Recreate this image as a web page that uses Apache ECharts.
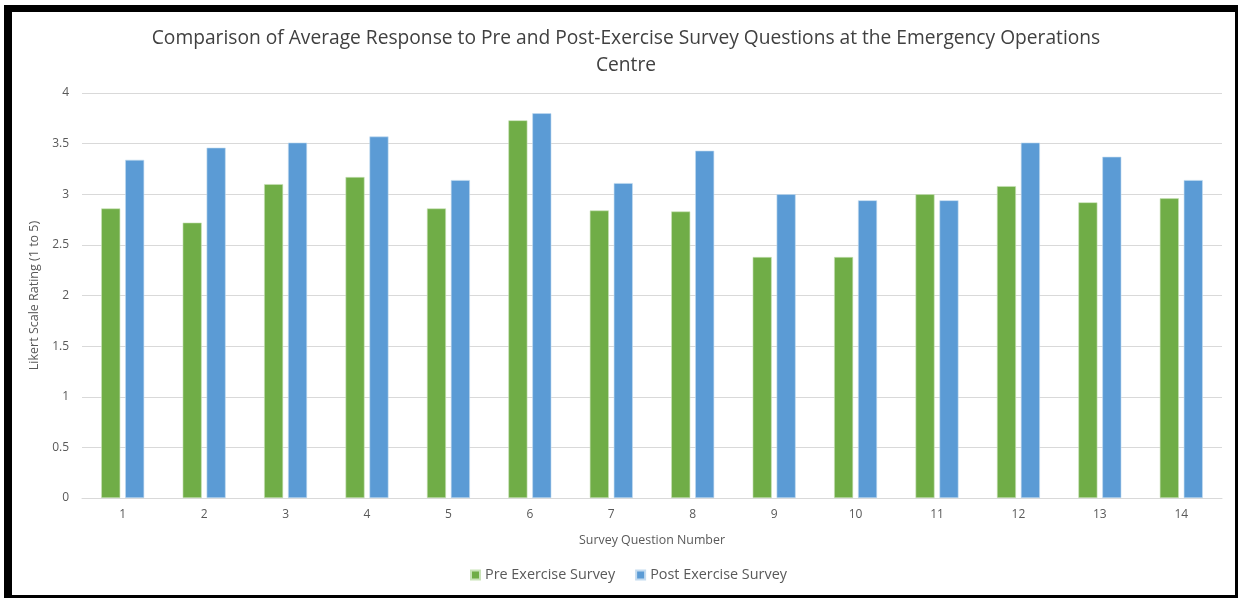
<!DOCTYPE html>
<html>
<head>
<meta charset="utf-8">
<script src="https://cdn.jsdelivr.net/npm/echarts@6/dist/echarts.min.js"></script>
<style>
html,body{margin:0;padding:0;background:#fff;}
#chart{position:absolute;left:0;top:0;width:1238px;height:598px;}
#frame{position:absolute;left:4px;top:5px;width:1223px;height:583px;border-style:solid;border-color:#000;border-width:7px 3px 3px 8px;pointer-events:none;}
</style>
</head>
<body>
<div id="chart"></div>
<div id="frame"></div>
<script>
var categories = ['1','2','3','4','5','6','7','8','9','10','11','12','13','14'];
var preExercise = [2.86, 2.72, 3.10, 3.17, 2.86, 3.73, 2.84, 2.83, 2.38, 2.38, 3.00, 3.08, 2.92, 2.96];
var postExercise = [3.34, 3.46, 3.51, 3.57, 3.14, 3.80, 3.11, 3.43, 3.00, 2.94, 2.94, 3.51, 3.37, 3.14];
var yTicks = [0, 0.5, 1, 1.5, 2, 2.5, 3, 3.5, 4];

var font = '"Open Sans", "Noto Sans", sans-serif';
var chart = echarts.init(document.getElementById('chart'), null, {renderer: 'canvas'});
chart.setOption({
  backgroundColor: '#fff',
  animation: false,
  title: {
    text: 'Comparison of Average Response to Pre and Post-Exercise Survey Questions at the Emergency Operations\nCentre',
    left: 621,
    top: 20,
    textAlign: 'center',
    textStyle: {fontFamily: font, fontSize: 19.2, fontWeight: 'normal', color: '#404040', lineHeight: 27}
  },
  legend: {
    bottom: 11,
    left: 465,
    itemWidth: 9,
    itemHeight: 9,
    itemGap: 20,
    icon: 'rect',
    textStyle: {fontFamily: font, fontSize: 14.4, color: '#595959'},
    data: ['Pre Exercise Survey', 'Post Exercise Survey']
  },
  grid: {left: 82, right: 16, top: 93, bottom: 100},
  xAxis: {
    type: 'category',
    data: categories,
    name: 'Survey Question Number',
    nameLocation: 'middle',
    nameGap: 36,
    nameTextStyle: {fontFamily: font, fontSize: 12.4, color: '#595959'},
    axisLine: {lineStyle: {color: '#d9d9d9'}},
    axisTick: {show: false},
    axisLabel: {fontFamily: font, fontSize: 12, color: '#595959', margin: 11}
  },
  yAxis: {
    type: 'value',
    min: yTicks[0],
    max: yTicks[yTicks.length - 1],
    interval: 0.5,
    name: 'Likert Scale Rating (1 to 5)',
    nameLocation: 'middle',
    nameGap: 34,
    nameTextStyle: {fontFamily: font, fontSize: 12.5, color: '#595959'},
    axisLine: {show: false},
    axisTick: {show: false},
    axisLabel: {fontFamily: font, fontSize: 12, color: '#595959', margin: 13},
    splitLine: {lineStyle: {color: '#d9d9d9', width: 1}}
  },
  series: [
    {
      name: 'Pre Exercise Survey',
      type: 'bar',
      data: preExercise,
      barWidth: 19,
      barGap: '26%',
      itemStyle: {color: '#70AD47', borderColor: '#c9e3b8', borderWidth: 0.6}
    },
    {
      name: 'Post Exercise Survey',
      type: 'bar',
      data: postExercise,
      barWidth: 19,
      barGap: '26%',
      itemStyle: {color: '#5B9BD5', borderColor: '#c3dbf0', borderWidth: 0.6}
    }
  ]
});
</script>
</body>
</html>
